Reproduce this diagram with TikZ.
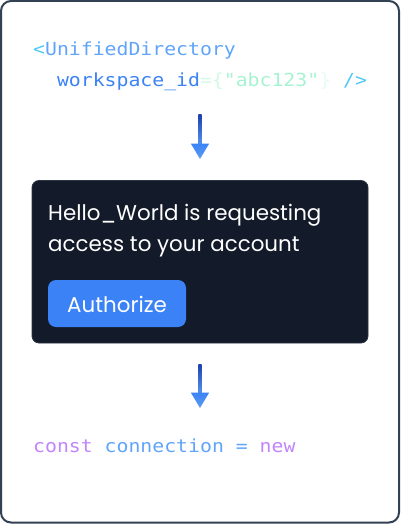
\documentclass[tikz,border=0pt]{standalone}
\usepackage{fontspec}
\newfontfamily\codefont[FakeStretch=1.1]{DejaVu Sans Mono}
\newfontfamily\uifont{Poppins}
\usetikzlibrary{shadings}
\definecolor{frame}{HTML}{334155}
\definecolor{cyanc}{HTML}{4FC8F5}
\definecolor{bluel}{HTML}{60A5FA}
\definecolor{blued}{HTML}{3B82F6}
\definecolor{palegreen}{HTML}{D1FAE5}
\definecolor{paleergreen}{HTML}{E8FBF1}
\definecolor{mint}{HTML}{A7F3D0}
\definecolor{purplec}{HTML}{C084FC}
\definecolor{darkbox}{HTML}{131A29}
\definecolor{darkedge}{HTML}{2B3445}
\definecolor{btn}{HTML}{3B82F6}
\definecolor{arrtop}{HTML}{1E40AF}
\definecolor{arrbot}{HTML}{5B9CF2}
\tikzset{
  codetext/.style={inner sep=0pt, anchor=base west, font=\codefont\fontsize{18}{20}\selectfont},
  uitext/.style={inner sep=0pt, anchor=base west, text=white, font=\uifont\fontsize{21.4}{24}\selectfont},
  shaft/.style={top color=arrtop, bottom color=bluel!85!arrtop},
  head/.style={top color=blued, bottom color=arrbot},
}
\begin{document}
\begin{tikzpicture}[x=1pt,y=-1pt]
\useasboundingbox (0,0) rectangle (400,524);
% outer frame
\draw[frame, line width=2pt, rounded corners=10pt] (1,1) rectangle (399,522.5);
% code lines
\node[codetext] (l1) at (33,56) {\textcolor{cyanc}{<}\textcolor{bluel}{UnifiedDirectory}};
\node[codetext] (l2) at (56.8,87) {\textcolor{blued}{workspace\_id}\textcolor{palegreen}{=\{}\textcolor{mint}{"abc123"}\textcolor{paleergreen}{\}} \textcolor{cyanc}{/>}};
% arrow 1
\coordinate (a1s) at (200,115);
\coordinate (a1e) at (200,159);
\shade[shaft] ([xshift=-1.6pt]a1s) rectangle ([xshift=1.6pt,yshift=14pt]a1e);
\shade[head] ([xshift=-9.2pt,yshift=15.5pt]a1e) -- ([xshift=9.2pt,yshift=15.5pt]a1e) -- (a1e) -- cycle;
% dark box
\draw[darkedge, fill=darkbox, line width=0.8pt, rounded corners=7pt] (32,180.5) rectangle (368,343);
\node[uitext] (t1) at (48,220) {Hello\_World is requesting};
\node[uitext] (t2) at (48,251) {access to your account};
\draw[fill=btn, draw=none, rounded corners=8pt] (48,280) rectangle (186,327);
\node[inner sep=0pt, text=white, font=\uifont\fontsize{21.4}{24}\selectfont] (btn) at (117,304) {Authorize};
% arrow 2
\coordinate (a2s) at (200,364);
\coordinate (a2e) at (200,408);
\shade[shaft] ([xshift=-1.6pt]a2s) rectangle ([xshift=1.6pt,yshift=14pt]a2e);
\shade[head] ([xshift=-9.2pt,yshift=15.5pt]a2e) -- ([xshift=9.2pt,yshift=15.5pt]a2e) -- (a2e) -- cycle;
% bottom code
\node[codetext] (l3) at (33,452) {\textcolor{purplec}{const} \textcolor{bluel}{connection} \textcolor{bluel}{=} \textcolor{purplec}{new}};
\end{tikzpicture}
\end{document}
